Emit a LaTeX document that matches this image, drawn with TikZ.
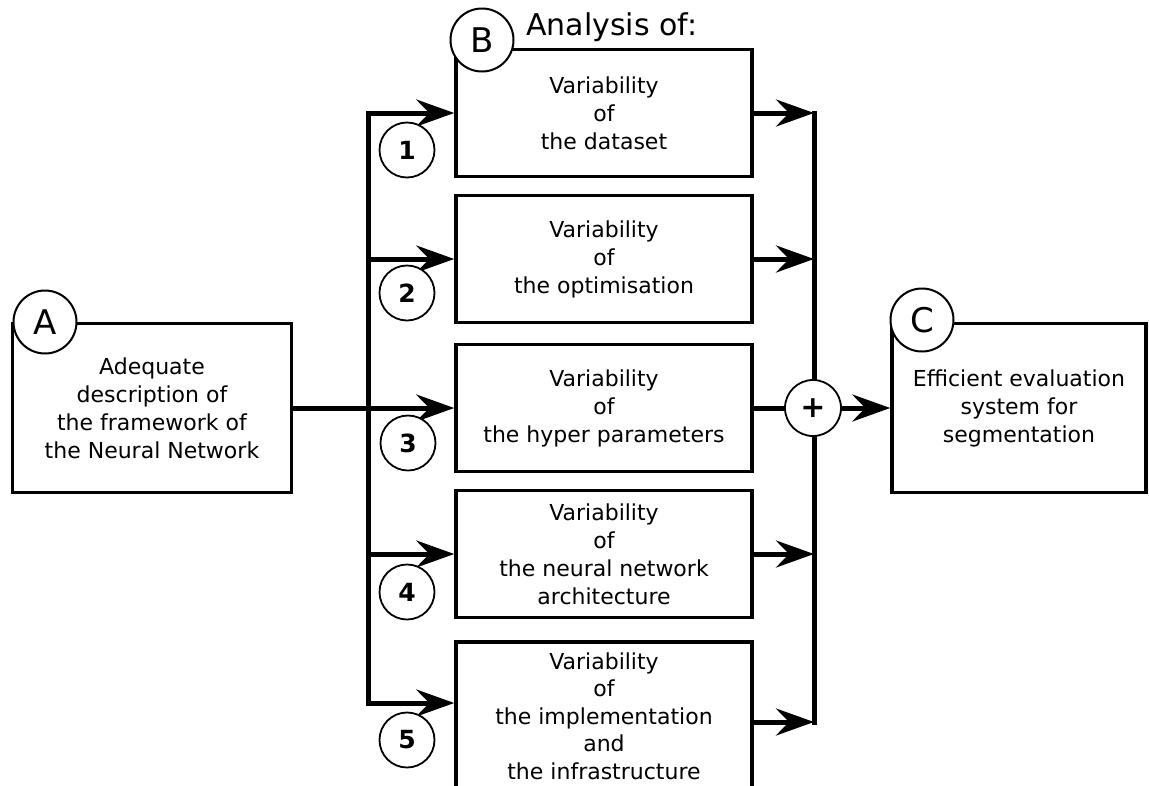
\documentclass[tikz,border=0pt]{standalone}
\usepackage{fontspec}
\setmainfont{DejaVu Sans}
\usetikzlibrary{arrows.meta}
\begin{document}
\begin{tikzpicture}[x=1pt,y=-1pt,
  box/.style={draw, line width=3.5pt, minimum width=296pt, minimum height=127pt, inner sep=0pt, align=center, font=\fontsize{22}{28}\selectfont},
  bigc/.style={draw, circle, fill=white, line width=2pt, minimum size=63pt, inner sep=0pt, font=\fontsize{34}{34}\selectfont},
  numc/.style={draw, circle, fill=white, line width=1.8pt, minimum size=55pt, inner sep=0pt, font=\bfseries\fontsize{25}{25}\selectfont},
  conn/.style={line width=5pt},
  tip/.tip={Stealth[length=38pt,width=27pt,inset=13pt]},
  arr/.style={conn, -tip},
]
\clip (0,0) rectangle (1149,785);
\fill[white] (0,0) rectangle (1149,785);

% boxes
\node[box, minimum width=279pt, minimum height=169pt] (A) at (152,408) {Adequate\\description of\\the framework of\\the Neural Network};
\node[box] (B1) at (604,113) {Variability\\of\\the dataset};
\node[box] (B2) at (604,259) {Variability\\of\\the optimisation};
\node[box] (B3) at (604,408) {Variability\\of\\the hyper parameters};
\node[box] (B4) at (604,554) {Variability\\of\\the neural network\\architecture};
\node[box, minimum height=148pt, font=\fontsize{22}{27.5}\selectfont] (B5) at (604,716) {Variability\\of\\the implementation\\and\\the infrastructure};
\node[box, minimum width=254pt, minimum height=169pt] (C) at (1019,408) {Efficient evaluation\\system for\\segmentation};

% bus coordinates
\coordinate (Lt) at (368,113);
\coordinate (Lb) at (368,703);
\coordinate (Rt) at (814,113);
\coordinate (Rb) at (814,722);

% left bus
\draw[conn, tip-tip] (B5.west |- Lb) -- (Lb) -- (Lt) -- (B1.west);
\draw[arr] (Lt |- B2.west) -- (B2.west);
\draw[arr] (Lt |- B4.west) -- (B4.west);
\draw[arr] (A.east) -- (B3.west);

% right bus
\draw[conn, line cap=rect] (Rt) -- (Rb);
\draw[arr] (B1.east) -- (Rt);
\draw[arr] (B2.east) -- (Rt |- B2.east);
\draw[arr] (B4.east) -- (Rt |- B4.east);
\draw[arr] (B5.east |- Rb) -- (Rb);

\node[numc, minimum size=56pt, font=\bfseries\fontsize{30}{30}\selectfont] (plus) at (813,408) {+};
\draw[conn] (B3.east) -- (plus);
\draw[arr] (plus) -- (C.west);

% labels
\node[bigc] (cA) at (45,322) {A};
\node[bigc] (cB) at (482,40) {B};
\node[bigc] (cC) at (922,320) {C};
\node[anchor=west, inner sep=0pt, font=\fontsize{30}{30}\selectfont] (an) at (526,27) {Analysis of:};

\node[numc] (n1) at (407,150) {1};
\node[numc] (n2) at (407,293) {2};
\node[numc] (n3) at (408,443) {3};
\node[numc] (n4) at (407,592) {4};
\node[numc] (n5) at (407,740) {5};
\end{tikzpicture}
\end{document}
